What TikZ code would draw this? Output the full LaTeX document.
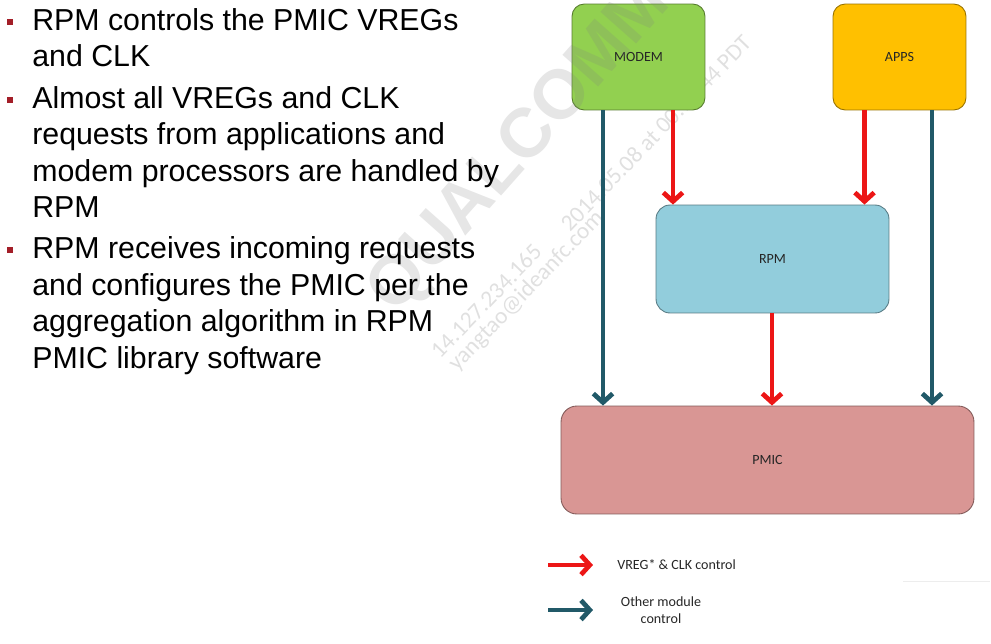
\documentclass[tikz,border=0pt]{standalone}
\usepackage{fontspec}
\setmainfont{Liberation Sans}
\newfontfamily\labelfont{Carlito}
\usetikzlibrary{arrows.meta}

\definecolor{modemgreen}{RGB}{146,208,80}
\definecolor{appsyellow}{RGB}{255,192,0}
\definecolor{rpmblue}{RGB}{146,205,220}
\definecolor{pmicpink}{RGB}{217,150,148}
\definecolor{ctrlred}{RGB}{236,22,22}
\definecolor{ctrlteal}{RGB}{33,89,104}
\definecolor{bulletred}{RGB}{163,30,40}

\begin{document}
\begin{tikzpicture}[x=0.02cm, y=-0.02cm,
  block/.style={draw=#1!60!black, line width=0.5pt, fill=#1, inner sep=0pt,
    rounded corners=7pt, text=black!85,
    font=\labelfont\fontsize{8}{9.6}\selectfont},
  bodytext/.style={inner sep=0pt, anchor=base west, text=black,
    font=\fontsize{17.25}{20.7}\selectfont},
  bulletsq/.style={fill=bulletred, inner sep=0pt, minimum size=0.12cm},
  legendtext/.style={inner sep=0pt, text=black!85, align=center,
    font=\labelfont\fontsize{8}{9.4}\selectfont},
  flow/.style={line width=2.7pt, -{Straight Barb[length=5pt,width=11pt]}},
  redflow/.style={flow, draw=ctrlred},
  tealflow/.style={flow, draw=ctrlteal},
  stamp/.style={inner sep=0pt, anchor=base west, rotate=46, text=black!12,
    font=\labelfont\fontsize{13.3}{16}\selectfont},
]
\useasboundingbox (0,0) rectangle (991,643);

% faint document stamp behind the blocks
\node[stamp] (ip)   at (440,360) {14.127.234.165};
\node[stamp] (date) at (570,233) {2014.05.08 at 00:18:44 PDT};
\node[stamp] (mail) at (457,372) {yangtao@ideanfc.com};

% blocks
\node[block=modemgreen, minimum width=2.66cm, minimum height=2.12cm]
  (modem) at (638.5,57) {MODEM};
\node[block=appsyellow, minimum width=2.66cm, minimum height=2.12cm]
  (apps) at (899.5,57) {APPS};
\node[block=rpmblue, minimum width=4.66cm, minimum height=2.16cm, rounded corners=8pt]
  (rpm) at (772.5,259) {RPM};
\node[block=pmicpink, minimum width=8.26cm, minimum height=2.16cm, rounded corners=9pt]
  (pmic) at (767.5,460) {PMIC};

% large stamp word, laid over the blocks
\node[inner sep=0pt, rotate=48.4, text=black!50, opacity=0.2,
  font=\bfseries\fontsize{39.5}{40}\selectfont] (brand) at (521,148) {QUALCOMM};

% bullet list
\node[bulletsq] (b1) at (10,21.5) {};
\node[bulletsq] (b2) at (10,99.5) {};
\node[bulletsq] (b3) at (10,250) {};
\foreach \t/\y [count=\i] in {
  RPM controls the PMIC VREGs/30,
  and CLK/66.5,
  Almost all VREGs and CLK/108,
  requests from applications and/144.5,
  modem processors are handled by/181,
  RPM/217.5,
  RPM receives incoming requests/258.5,
  and configures the PMIC per the/295,
  aggregation algorithm in RPM/331.5,
  PMIC library software/368}
  \node[bodytext] (line\i) at (32,\y) {\t};

% arrow columns
\coordinate (xmt) at (603,0);
\coordinate (xmr) at (673,0);
\coordinate (xar) at (864.5,0);
\coordinate (xat) at (932,0);
\coordinate (xrr) at (772,0);

\draw[tealflow] (modem.south -| xmt) -- (pmic.north -| xmt);
\draw[redflow]  (modem.south -| xmr) -- (rpm.north -| xmr);
\draw[redflow]  (apps.south -| xar) -- (rpm.north -| xar);
\draw[tealflow] (apps.south -| xat) -- (pmic.north -| xat);
\draw[redflow]  (rpm.south -| xrr) -- (pmic.north -| xrr);

% legend
\coordinate (lr0) at (548,565);
\coordinate (lr1) at (593,565);
\coordinate (lt0) at (548,610);
\coordinate (lt1) at (593,610);
\draw[redflow]  (lr0) -- (lr1);
\draw[tealflow] (lt0) -- (lt1);
\node[legendtext, anchor=west] (lgred) at (617,565) {VREG* \& CLK control};
\node[legendtext] (lgteal) at (661,610) {Other module\\control};
\draw[black!7, line width=0.5pt] (903,581) -- (990,581);
\end{tikzpicture}
\end{document}
